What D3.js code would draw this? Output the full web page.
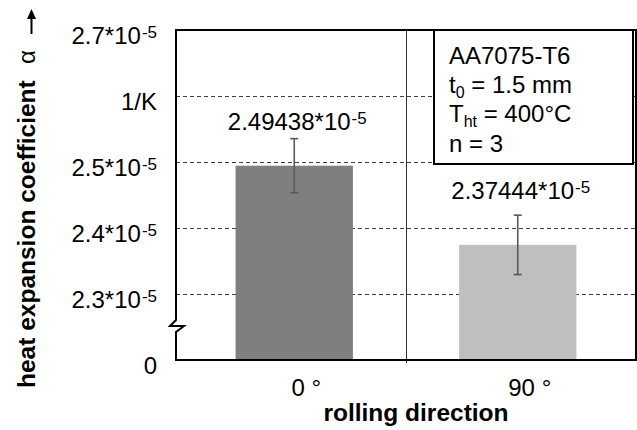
<!DOCTYPE html>
<html>
<head>
<meta charset="utf-8">
<script src="https://cdn.jsdelivr.net/npm/d3@7"></script>
<style>
  html, body { margin: 0; padding: 0; background: #fff; }
  svg { display: block; }
  text { font-family: "Liberation Sans", Arial, sans-serif; fill: #000; }
</style>
</head>
<body>
<svg id="chart" width="637" height="430"></svg>
<script>
// ---- data (values in units of 10^-5 1/K) ----
const categories = ["0 °", "90 °"];
const values = [2.49438, 2.37444];
const errors = [0.041, 0.045];
const valueLabels = ["2.49438*10", "2.37444*10"];
const valueLabelSup = ["-5", "-5"];
const tickValues = [2.2, 2.3, 2.4, 2.5, 2.6, 2.7];
const tickMain = ["0", "2.3*10", "2.4*10", "2.5*10", "1/K", "2.7*10"];
const tickSup = ["", "-5", "-5", "-5", "", "-5"];
const gridValues = [2.3, 2.4, 2.5, 2.6];
const barColors = ["#7f7f7f", "#bfbfbf"];
const legendLines = [
  [["AA7075-T6", ""]],
  [["t", ""], ["0", "sub"], [" = 1.5 mm", ""]],
  [["T", ""], ["ht", "sub"], [" = 400°C", ""]],
  [["n = 3", ""]]
];
const xTitle = "rolling direction";
const yTitle = "heat expansion coefficient";
const ySymbol = "α";

// ---- layout ----
const svg = d3.select("#chart");
const plot = { left: 176, right: 636, top: 30, bottom: 360 };
const FS = 24;
const SUP = 17;

const x = d3.scaleBand().domain(categories).range([182.5, 629.5]);
const y = d3.scaleLinear().domain([2.2, 2.7]).range([plot.bottom, plot.top]);
const barW = x.bandwidth() * 0.525;
const cx = d => x(d) + x.bandwidth() / 2;
const crisp = v => Math.round(v) + 0.5;

svg.append("rect").attr("width", 637).attr("height", 430).attr("fill", "#fff");

// gridlines
svg.append("g").selectAll("line").data(gridValues).join("line")
  .attr("x1", plot.left).attr("x2", plot.right)
  .attr("y1", d => crisp(y(d))).attr("y2", d => crisp(y(d)))
  .attr("stroke", "#404040").attr("stroke-width", 1)
  .attr("stroke-dasharray", "4,3");

// category divider
svg.append("line")
  .attr("x1", crisp(x(categories[1]))).attr("x2", crisp(x(categories[1])))
  .attr("y1", plot.top).attr("y2", plot.bottom + 3)
  .attr("stroke", "#333").attr("stroke-width", 1);

// bars
svg.append("g").selectAll("rect").data(categories).join("rect")
  .attr("x", (d) => cx(d) - barW / 2)
  .attr("width", barW)
  .attr("y", (d, i) => y(values[i]))
  .attr("height", (d, i) => y(2.2) - y(values[i]))
  .attr("fill", (d, i) => barColors[i]);

// error bars
const eb = svg.append("g").attr("stroke", "#595959").attr("stroke-width", 1.6);
categories.forEach((c, i) => {
  const xc = cx(c);
  const y1 = y(values[i] + errors[i]), y2 = y(values[i] - errors[i]);
  eb.append("line").attr("x1", xc).attr("x2", xc).attr("y1", y1).attr("y2", y2);
  eb.append("line").attr("x1", xc - 4).attr("x2", xc + 4).attr("y1", y1).attr("y2", y1);
  eb.append("line").attr("x1", xc - 4).attr("x2", xc + 4).attr("y1", y2).attr("y2", y2);
});

// value labels
const labelGap = [9, 16];
categories.forEach((c, i) => {
  const t = svg.append("text")
    .attr("x", cx(c) + 3)
    .attr("y", y(values[i] + errors[i]) - labelGap[i])
    .attr("text-anchor", "middle")
    .attr("font-size", FS);
  t.append("tspan").text(valueLabels[i]);
  t.append("tspan").attr("font-size", SUP).attr("dy", -6).attr("dx", 1).text(valueLabelSup[i]);
});

// frame (with axis break)
const brk = 326;
svg.append("path")
  .attr("d", `M${plot.left},${plot.top} V${brk - 6} L${plot.left - 6},${brk} L${plot.left + 8},${brk} L${plot.left},${brk + 6} V${plot.bottom} H${plot.right} V${plot.top} Z`)
  .attr("fill", "none").attr("stroke", "#000").attr("stroke-width", 2)
  .attr("stroke-linejoin", "miter");

// y axis labels
const yAxis = d3.axisLeft(y).tickValues(tickValues).tickSize(0).tickPadding(0);
const gy = svg.append("g").attr("transform", "translate(157,0)").call(yAxis);
gy.select(".domain").remove();
gy.selectAll("text").each(function(d, i) {
  const t = d3.select(this);
  t.text(null).attr("font-size", FS).attr("font-family", null).attr("fill", "#000")
    .attr("dy", null).attr("y", 13);
  t.append("tspan").text(tickMain[i]);
  if (tickSup[i]) t.append("tspan").attr("font-size", SUP).attr("dy", -6).attr("dx", 1).text(tickSup[i]);
});

// x axis labels
const xAxis = d3.axisBottom(x).tickSize(0).tickPadding(0);
const gx = svg.append("g").attr("transform", `translate(0,${plot.bottom})`).call(xAxis);
gx.select(".domain").remove();
gx.selectAll("text")
  .attr("font-size", FS).attr("font-family", null).attr("fill", "#000")
  .attr("dy", null).attr("y", 36).attr("dx", 12);

// x title
svg.append("text")
  .attr("x", 416).attr("y", 421)
  .attr("text-anchor", "middle")
  .attr("font-size", 24.5).attr("font-weight", "bold")
  .text(xTitle);

// y title
svg.append("text")
  .attr("transform", "translate(35,388) rotate(-90)")
  .attr("font-size", 24.5).attr("font-weight", "bold")
  .text(yTitle);
svg.append("text")
  .attr("transform", "translate(35,64) rotate(-90)")
  .attr("font-size", FS)
  .text(ySymbol);
// arrow
svg.append("line").attr("x1", 31.5).attr("x2", 31.5).attr("y1", 34).attr("y2", 17)
  .attr("stroke", "#000").attr("stroke-width", 2);
svg.append("path").attr("d", "M31.5,9 L36,19 L27,19 Z").attr("fill", "#000");

// legend box
const lg = svg.append("g");
lg.append("rect").attr("x", 434).attr("y", 30).attr("width", 199).attr("height", 134)
  .attr("fill", "#fff").attr("stroke", "#000").attr("stroke-width", 2);
legendLines.forEach((parts, i) => {
  const t = lg.append("text").attr("x", 449).attr("y", 63.5 + i * 29.4).attr("font-size", FS);
  let shifted = false;
  parts.forEach(([s, kind]) => {
    const ts = t.append("tspan").text(s);
    if (kind === "sub") { ts.attr("font-size", 16).attr("dy", 5); shifted = true; }
    else if (shifted) { ts.attr("dy", -5); shifted = false; }
  });
});
</script>
</body>
</html>
